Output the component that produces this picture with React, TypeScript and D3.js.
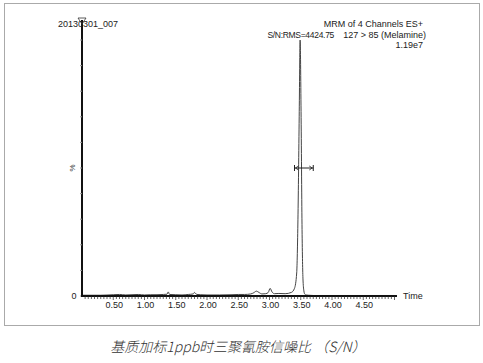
import React from 'react';
import * as d3 from 'd3';

// chromatogram trace: retention time (min) and relative intensity (%)
const times = [0, 0.3, 0.5, 0.6, 0.7, 0.8, 0.9, 1.0, 1.1, 1.2, 1.3, 1.36, 1.38, 1.4, 1.5, 1.6, 1.7, 1.78, 1.8, 1.82, 1.84, 1.9, 2.0, 2.2, 2.4, 2.5, 2.6, 2.7, 2.75, 2.79, 2.83, 2.88, 2.94, 2.98, 3.01, 3.04, 3.08, 3.15, 3.25, 3.35, 3.40, 3.435, 3.455, 3.475, 3.49, 3.505, 3.52, 3.535, 3.55, 3.565, 3.585, 3.62, 3.7, 3.9, 4.2, 4.6, 5.0];
const intensity = [0.3, 0.3, 0.5, 0.6, 0.4, 0.5, 0.6, 0.4, 0.5, 0.5, 0.6, 0.7, 1.6, 0.6, 0.5, 0.4, 0.6, 0.8, 1.4, 0.9, 0.6, 0.5, 0.4, 0.4, 0.5, 0.6, 0.6, 0.8, 1.3, 1.9, 1.4, 0.8, 0.9, 1.4, 3.0, 1.6, 0.9, 1.0, 0.9, 1.4, 3.0, 9.0, 30, 70, 100, 72, 28, 7, 2.0, 0.7, 0.4, 0.3, 0.2, 0.2, 0.2, 0.2, 0.2];

const xTickLabels = ['0.50', '1.00', '1.50', '2.00', '2.50', '3.00', '3.50', '4.00', '4.50'];
const yTicks = d3.range(0, 101, 10);
const minorTicks = d3.range(0.05, 5.01, 0.05);
const noiseRange = [3.4, 3.7];
const noiseLevel = 50;

const headerLines = ['MRM of 4 Channels ES+', '127 > 85 (Melamine)', '1.19e7'];

export default function App() {
  const x = d3.scaleLinear().domain([0, 5]).range([82, 394.5]);
  const y = d3.scaleLinear().domain([0, 100]).range([296, 40]);

  const points = times.map((t, i) => [t, intensity[i]] as [number, number]);
  const line = d3.line<[number, number]>()
    .x(d => x(d[0]))
    .y(d => y(d[1]))
    .curve(d3.curveMonotoneX);

  const font = '"Liberation Sans", Arial, sans-serif';
  const nx1 = x(noiseRange[0]);
  const nx2 = x(noiseRange[1]);
  const ny = y(noiseLevel);

  return (
    <svg width={483} height={363} style={{ position: 'absolute', left: 0, top: 0, background: '#fff' }}>
      <rect x={4.5} y={3.5} width={475} height={322} fill="none" stroke="#aaa" strokeWidth={1} />

      {/* trace */}
      <path d={line(points) || ''} fill="none" stroke="#444" strokeWidth={1} />

      {/* y axis */}
      <line x1={x(0)} x2={x(0)} y1={20} y2={y(0) + 1} stroke="#111" strokeWidth={2} />
      <path d={`M${x(0) - 4},18 L${x(0) + 4},18 L${x(0)},24 Z`} fill="none" stroke="#333" strokeWidth={0.8} />
      {yTicks.map(t => (
        <line key={t} x1={x(0) - 2} x2={x(0)} y1={y(t)} y2={y(t)} stroke="#999" strokeWidth={1} />
      ))}
      <text x={74} y={y(0) + 3} fontFamily={font} fontSize={9} textAnchor="middle" fill="#222">0</text>
      <text transform={`translate(75,${y(50)}) rotate(-90)`} fontFamily={font} fontSize={8} textAnchor="middle" fill="#333">%</text>

      {/* x axis */}
      <line x1={x(0) - 1} x2={397} y1={y(0)} y2={y(0)} stroke="#111" strokeWidth={2} />
      {minorTicks.map((t, i) => (
        <line key={i} x1={x(t)} x2={x(t)} y1={y(0)} y2={y(0) + (i % 10 === 9 ? 4 : 3)} stroke="#222" strokeWidth={0.7} />
      ))}
      {xTickLabels.map(l => (
        <text key={l} x={x(+l) + 1} y={308} fontFamily={font} fontSize={9} textAnchor="middle" fill="#222">{l}</text>
      ))}
      <text x={403} y={299} fontFamily={font} fontSize={9} fill="#222">Time</text>

      {/* noise marker */}
      <line x1={nx1} x2={nx2} y1={ny} y2={ny} stroke="#222" strokeWidth={1} />
      <line x1={nx1} x2={nx1} y1={ny - 3} y2={ny + 3} stroke="#222" strokeWidth={1} />
      <line x1={nx2} x2={nx2} y1={ny - 3} y2={ny + 3} stroke="#222" strokeWidth={1} />
      <path d={`M${nx1 + 4},${ny - 2} L${nx1 + 1},${ny} L${nx1 + 4},${ny + 2}`} fill="none" stroke="#222" strokeWidth={0.8} />
      <path d={`M${nx2 - 4},${ny - 2} L${nx2 - 1},${ny} L${nx2 - 4},${ny + 2}`} fill="none" stroke="#222" strokeWidth={0.8} />

      {/* annotations */}
      <text x={58} y={27} fontFamily={font} fontSize={9} fill="#222">20130301_007</text>
      <text x={334} y={38} fontFamily={font} fontSize={8.5} textAnchor="end" fill="#222" letterSpacing={-0.3}>S/N:RMS=4424.75</text>
      {headerLines.map((s, i) => (
        <text key={s} x={i === 1 ? 426 : 423} y={27 + i * 10.5} fontFamily={font} fontSize={9} textAnchor="end" fill="#222">{s}</text>
      ))}

      <text x={238} y={352} fontFamily='"Noto Sans CJK SC", sans-serif' fontSize={14} fontStyle="italic" fontWeight={300} textAnchor="middle" fill="#333">
        基质加标1ppb时三聚氰胺信噪比 （S/N）
      </text>
    </svg>
  );
}
